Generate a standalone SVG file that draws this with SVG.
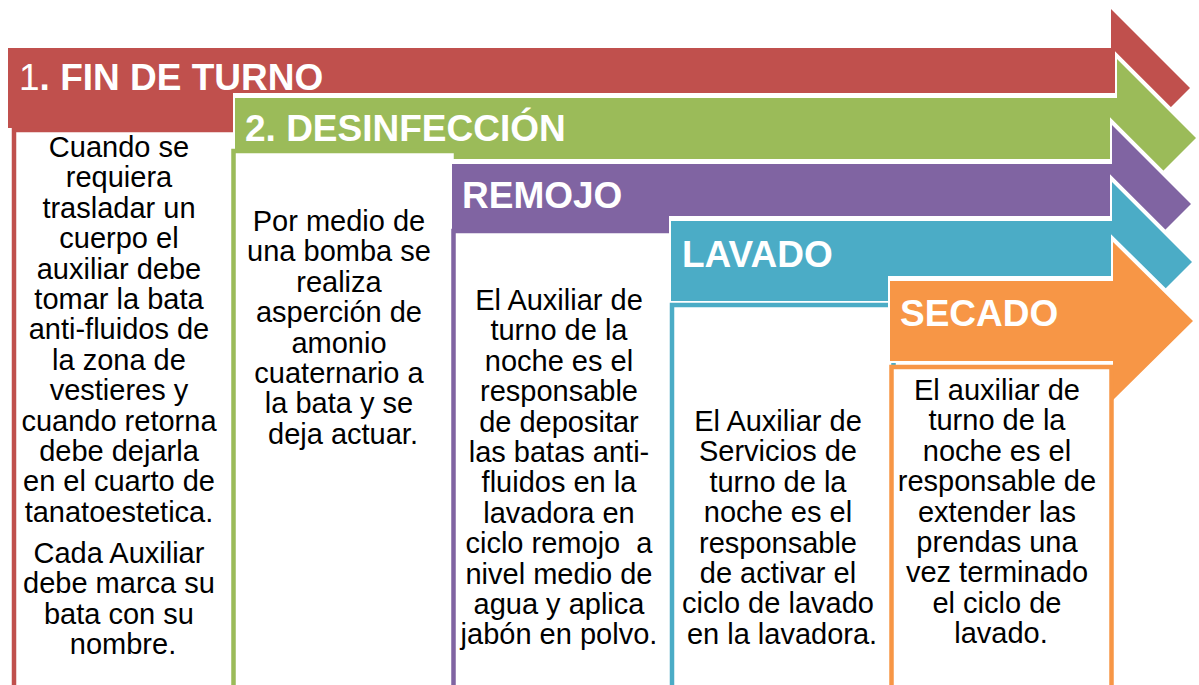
<svg xmlns="http://www.w3.org/2000/svg" width="1199" height="685" viewBox="0 0 1199 685">
<style>
.gap{fill:#fff;stroke:#fff;stroke-width:4}
.arr{stroke:#fff;stroke-width:4;stroke-linejoin:miter;paint-order:stroke}
.box{fill:#fff;stroke-width:4.5}
.hd{font-family:"Liberation Sans",Arial,sans-serif;font-weight:bold;font-size:37px;fill:#fff}
.tx{font-family:"Liberation Sans",Arial,sans-serif;font-size:29px;fill:#000;text-anchor:middle}
.red{fill:#C0504D}.grn{fill:#9BBB59}.pur{fill:#8064A2}.blu{fill:#4BACC6}.org{fill:#F79646}
</style>
<rect width="1199" height="685" fill="#fff"/>
<g id="step1">
<path class="arr red" d="M8,48 H1111 V9 L1190,88 L1111,167 V128 H8 Z"/>
<rect class="box" stroke="#C0504D" x="14" y="130" width="223" height="600"/>
<text class="hd" x="19" y="90"><tspan font-weight="normal">1</tspan>. FIN DE TURNO</text>
<text class="tx">
<tspan x="123" y="157">Cuando se</tspan>
<tspan x="123" y="187.4">requiera</tspan>
<tspan x="123" y="217.8">trasladar un</tspan>
<tspan x="123" y="248.2">cuerpo el</tspan>
<tspan x="123" y="278.6">auxiliar debe</tspan>
<tspan x="123" y="309">tomar la bata</tspan>
<tspan x="123" y="339.4">anti-fluidos de</tspan>
<tspan x="123" y="369.8">la zona de</tspan>
<tspan x="123" y="400.2">vestieres y</tspan>
<tspan x="123" y="430.6">cuando retorna</tspan>
<tspan x="123" y="461">debe dejarla</tspan>
<tspan x="123" y="491.4">en el cuarto de</tspan>
<tspan x="123" y="521.8">tanatoestetica.</tspan>
<tspan x="123" y="563">Cada Auxiliar</tspan>
<tspan x="123" y="593.4">debe marca su</tspan>
<tspan x="123" y="623.8">bata con su</tspan>
<tspan x="123" y="654.2">nombre.</tspan>
</text>
</g>
<g id="step2">
<path class="gap" d="M235,95 H1117 V56 L1196,135 L1117,214 V175 H235 Z"/>
<path class="arr grn" d="M235,98 H1117 V59 L1196,138 L1117,217 V178 H235 Z"/>
<rect class="box" stroke="#9BBB59" x="233.5" y="151" width="222.5" height="600"/>
<text class="hd" x="245" y="141">2. DESINFECCIÓN</text>
<text class="tx">
<tspan x="343" y="231">Por medio de</tspan>
<tspan x="343" y="261.4">una bomba se</tspan>
<tspan x="343" y="291.8">realiza</tspan>
<tspan x="343" y="322.2">asperción de</tspan>
<tspan x="343" y="352.6">amonio</tspan>
<tspan x="343" y="383">cuaternario a</tspan>
<tspan x="343" y="413.4">la bata y se</tspan>
<tspan x="343" y="443.8">deja actuar.</tspan>
</text>
</g>
<g id="step3">
<path class="gap" d="M452,161 H1112 V122 L1191,201 L1112,280 V241 H452 Z"/>
<path class="arr pur" d="M452,164 H1112 V125 L1191,204 L1112,283 V244 H452 Z"/>
<rect class="box" stroke="#8064A2" x="453.5" y="231" width="220.5" height="600"/>
<text class="hd" x="462" y="208">REMOJO</text>
<text class="tx" xml:space="preserve">
<tspan x="563" y="310">El Auxiliar de</tspan>
<tspan x="563" y="340.4">turno de la</tspan>
<tspan x="563" y="370.8">noche es el</tspan>
<tspan x="563" y="401.2">responsable</tspan>
<tspan x="563" y="431.6">de depositar</tspan>
<tspan x="563" y="462">las batas anti-</tspan>
<tspan x="563" y="492.4">fluidos en la</tspan>
<tspan x="563" y="522.8">lavadora en</tspan>
<tspan x="563" y="553.2">ciclo remojo  a</tspan>
<tspan x="563" y="583.6">nivel medio de</tspan>
<tspan x="563" y="614">agua y aplica</tspan>
<tspan x="563" y="644.4">jabón en polvo.</tspan>
</text>
</g>
<g id="step4">
<path class="gap" d="M671,218 H1112 V179 L1192,259 L1112,339 V298 H671 Z"/>
<path class="arr blu" d="M671,221 H1112 V182 L1192,262 L1112,342 V301 H671 Z"/>
<rect class="box" stroke="#4BACC6" x="672" y="305" width="221.5" height="600"/>
<text class="hd" x="682" y="267">LAVADO</text>
<text class="tx">
<tspan x="782" y="431">El Auxiliar de</tspan>
<tspan x="782" y="461.4">Servicios de</tspan>
<tspan x="782" y="491.8">turno de la</tspan>
<tspan x="782" y="522.2">noche es el</tspan>
<tspan x="782" y="552.6">responsable</tspan>
<tspan x="782" y="583">de activar el</tspan>
<tspan x="782" y="613.4">ciclo de lavado</tspan>
<tspan x="782" y="643.8">en la lavadora.</tspan>
</text>
</g>
<g id="step5">
<path class="gap" d="M890,278 H1113 V239 L1193,318 L1113,397 V358 H890 Z"/>
<path class="arr org" d="M890,281 H1113 V242 L1193,321 L1113,400 V361 H890 Z"/>
<rect class="box" stroke="#F79646" x="891.5" y="367" width="220" height="600"/>
<text class="hd" x="900" y="326">SECADO</text>
<text class="tx">
<tspan x="1001" y="400">El auxiliar de</tspan>
<tspan x="1001" y="430.4">turno de la</tspan>
<tspan x="1001" y="460.8">noche es el</tspan>
<tspan x="1001" y="491.2">responsable de</tspan>
<tspan x="1001" y="521.6">extender las</tspan>
<tspan x="1001" y="552">prendas una</tspan>
<tspan x="1001" y="582.4">vez terminado</tspan>
<tspan x="1001" y="612.8">el ciclo de</tspan>
<tspan x="1001" y="643.2">lavado.</tspan>
</text>
</g>
</svg>
